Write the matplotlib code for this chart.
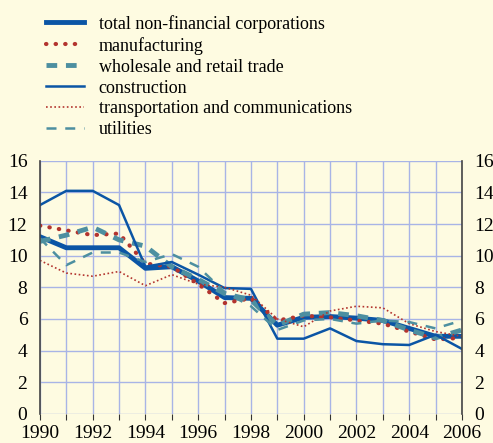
import matplotlib
matplotlib.use('Agg')
import matplotlib.pyplot as plt
import numpy as np

plt.rcParams['font.family'] = ['Liberation Serif', 'DejaVu Serif']

# data (per cent)
years = np.arange(1990, 2007)
total = [11.2, 10.5, 10.5, 10.5, 9.2, 9.3, 8.4, 7.35, 7.3, 5.6, 6.1, 6.15, 6.05, 5.9, 5.4, 4.9, 4.9]
manufacturing = [11.9, 11.6, 11.3, 11.4, 9.5, 9.3, 8.2, 7.0, 7.3, 5.9, 6.2, 6.1, 5.9, 5.7, 5.2, 4.7, 4.8]
wholesale = [10.9, 11.3, 11.8, 11.0, 10.6, 9.3, 8.5, 7.6, 7.2, 5.6, 6.3, 6.4, 6.2, 5.9, 5.3, 4.8, 5.3]
construction = [13.2, 14.1, 14.1, 13.2, 9.3, 9.6, 8.8, 7.95, 7.9, 4.75, 4.75, 5.4, 4.6, 4.4, 4.35, 5.0, 4.1]
transport = [9.7, 8.9, 8.7, 9.0, 8.1, 8.8, 8.2, 8.0, 7.5, 6.0, 5.5, 6.5, 6.8, 6.7, 5.7, 5.2, 4.9]
utilities = [11.1, 9.4, 10.2, 10.2, 9.6, 10.1, 9.3, 7.7, 6.8, 5.3, 5.9, 6.0, 5.7, 5.9, 5.8, 5.4, 5.9]

bg = '#fefbe1'
blue = '#0b55a5'
red = '#b3342e'
teal = '#4d8fa0'

fig = plt.figure(figsize=(4.93, 4.43), dpi=100, facecolor=bg)
ax = fig.add_axes([0.081, 0.066, 0.856, 0.571], facecolor=bg)

l1, = ax.plot(years, total, color=blue, lw=3.5, label='total non-financial corporations')
l2, = ax.plot(years, manufacturing, color=red, lw=3, linestyle=(0, (0.1, 2.2)),
              dash_capstyle='round', label='manufacturing')
l3, = ax.plot(years, wholesale, color=teal, lw=3.5, linestyle=(0, (2.2, 1.8)), label='wholesale and retail trade')
l4, = ax.plot(years, construction, color=blue, lw=1.8, label='construction')
l5, = ax.plot(years, transport, color=red, lw=1.2, linestyle=(0, (1, 1.5)), label='transportation and communications')
l6, = ax.plot(years, utilities, color=teal, lw=1.8, linestyle=(0, (4, 3.5)), label='utilities')

ax.set_xlim(1990, 2006)
ax.set_ylim(0, 16)
ax.set_xticks(years)
ax.set_xticklabels([str(y) if y % 2 == 0 else '' for y in years])
ax.set_yticks(np.arange(0, 17, 2))
ax.grid(True, color='#a8b4e6', lw=1)
ax.set_axisbelow(True)
ax.tick_params(axis='x', length=4, color='#333333', labelsize=14, pad=4)
ax.tick_params(axis='y', length=0, labelsize=14, pad=9, right=True, labelright=True)
for s in ['top', 'bottom']:
    ax.spines[s].set_visible(False)
for s in ['left', 'right']:
    ax.spines[s].set_color('#444444')
    ax.spines[s].set_linewidth(1.2)

fig.legend(handles=[l1, l2, l3, l4, l5, l6], loc='upper left', bbox_to_anchor=(0.068, 0.995),
           frameon=False, fontsize=13, handlelength=2.1, labelspacing=0.22,
           handletextpad=0.8, borderaxespad=0.3)

fig.savefig('out.png', dpi=100, facecolor=bg)
